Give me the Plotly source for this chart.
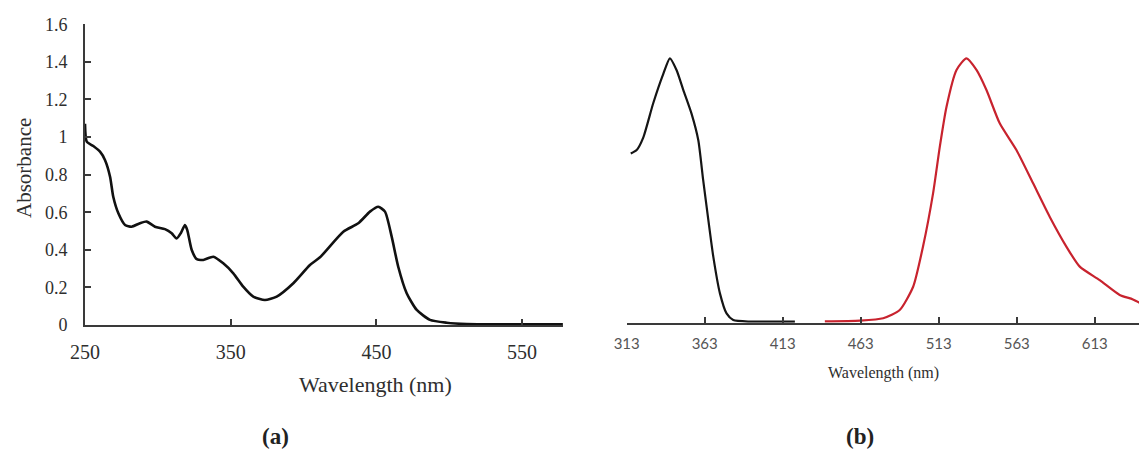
import plotly.graph_objects as go

# The page body has an 8px default margin, so the figure is sized to fill the 1147x452 window.
OFF = 8
W, H = 1147 - OFF, 452 - OFF

# ---- Panel (a): absorbance spectrum ----
a_wavelength = [250, 251.2, 255.7, 260.3, 263.7, 267.2, 269.4, 272.9, 277.5, 282, 287.7, 292.3,
                298, 304.9, 309.5, 312.9, 315.7, 318.6, 320.2, 323.2, 326.7, 331.2, 338.1, 344.9,
                351.8, 358.6, 365.5, 373.5, 381.6, 393, 404.4, 411.3, 427.3, 437.6, 445.6, 451.3,
                455.9, 460.5, 465, 470.8, 477.7, 486.8, 498.2, 512, 540, 578]
a_absorbance = [1.07, 0.975, 0.952, 0.922, 0.878, 0.789, 0.682, 0.594, 0.532, 0.523, 0.541, 0.55,
                0.523, 0.51, 0.488, 0.46, 0.488, 0.532, 0.505, 0.40, 0.35, 0.346, 0.363, 0.328,
                0.275, 0.204, 0.151, 0.133, 0.151, 0.222, 0.319, 0.36, 0.496, 0.541, 0.603, 0.629,
                0.603, 0.47, 0.31, 0.169, 0.08, 0.027, 0.012, 0.005, 0.004, 0.004]
a_xticks = [250, 350, 450, 550]
a_yticks = [0, 0.2, 0.4, 0.6, 0.8, 1, 1.2, 1.4, 1.6]
a_yticklabels = ["0", "0.2", "0.4", "0.6", "0.8", "1", "1.2", "1.4", "1.6"]

# ---- Panel (b): excitation (black) and emission (red) ----
b_exc_wavelength = [315.6, 319.4, 323.6, 330, 336.4, 340.7, 345, 349.3, 354.6, 358.9, 362,
                    365.3, 368.5, 372.8, 377, 381.3, 392, 405, 420.8]
b_exc_intensity = [0.64, 0.653, 0.70, 0.83, 0.94, 1.0, 0.955, 0.88, 0.79, 0.69, 0.54,
                   0.39, 0.25, 0.11, 0.035, 0.01, 0.004, 0.004, 0.004]
b_em_wavelength = [440, 462.5, 477.4, 488, 496.6, 503, 509.4, 513.7, 518, 524.4, 530.8, 537.2,
                   543.6, 552.1, 562.8, 573.5, 584.2, 594.9, 603.4, 616.2, 629, 637.5, 646.5]
b_em_intensity = [0.005, 0.008, 0.017, 0.048, 0.136, 0.29, 0.49, 0.666, 0.817, 0.956, 1.0, 0.956,
                  0.88, 0.754, 0.653, 0.527, 0.40, 0.287, 0.212, 0.161, 0.105, 0.088, 0.06]
b_xticks = [313, 363, 413, 463, 513, 563, 613]

fig = go.Figure()
fig.add_trace(go.Scatter(x=a_wavelength, y=a_absorbance, mode="lines",
                         line=dict(color="#111111", width=2.6, shape="spline", smoothing=0.6),
                         xaxis="x", yaxis="y", showlegend=False))
fig.add_trace(go.Scatter(x=b_exc_wavelength, y=b_exc_intensity, mode="lines",
                         line=dict(color="#151515", width=2.2, shape="spline", smoothing=0.6),
                         xaxis="x2", yaxis="y2", showlegend=False))
fig.add_trace(go.Scatter(x=b_em_wavelength, y=b_em_intensity, mode="lines",
                         line=dict(color="#c8232e", width=2.2, shape="spline", smoothing=0.6),
                         xaxis="x2", yaxis="y2", showlegend=False))

def px_x(p):
    return (p - OFF) / W

def px_y(p):
    return 1 - (p - OFF) / H

serif = "Liberation Serif, Times New Roman, serif"
axis_col = "#3a3a3a"
text_col = "#2e2e2e"

fig.update_layout(
    width=W, height=H, autosize=False,
    template="none",
    margin=dict(l=0, r=0, t=0, b=0, pad=0),
    paper_bgcolor="white", plot_bgcolor="white",
    font=dict(family=serif, color="#333333"),
    xaxis=dict(domain=[px_x(85), px_x(563.3)], range=[250, 578.3], anchor="y", automargin=False,
               tickvals=a_xticks, ticks="inside", ticklen=6, tickwidth=1.5, tickcolor=axis_col,
               showline=True, linecolor=axis_col, linewidth=2, showgrid=False, zeroline=False,
               tickfont=dict(family=serif, size=20, color=text_col), ticklabelstandoff=8),
    yaxis=dict(domain=[px_y(325), px_y(24.2)], range=[0, 1.6], anchor="x", automargin=False,
               tickvals=a_yticks, ticktext=a_yticklabels, ticks="inside", ticklen=6, tickwidth=1.5,
               tickcolor=axis_col, showline=True, linecolor=axis_col, linewidth=2,
               showgrid=False, zeroline=False,
               tickfont=dict(family=serif, size=18, color=text_col), ticklabelstandoff=12),
    xaxis2=dict(domain=[px_x(626.7), 1.0], range=[313, 646.5], anchor="y2", automargin=False,
                tickvals=b_xticks, ticks="inside", ticklen=6, tickwidth=1.5, tickcolor=axis_col,
                showline=True, linecolor=axis_col, linewidth=2, showgrid=False, zeroline=False,
                tickfont=dict(family="Lato, Open Sans, sans-serif", size=15, color="#555555"),
                ticklabelstandoff=6),
    yaxis2=dict(domain=[px_y(322.7), px_y(24.2)], range=[0, (322.7 - 24.2) / (322.7 - 58.3)],
                anchor="x2", visible=False, automargin=False),
)

annos = [
    dict(text="Absorbance", x=px_x(24), y=px_y(168), textangle=-90,
         font=dict(family=serif, size=21, color=text_col)),
    dict(text="Wavelength (nm)", x=px_x(375), y=px_y(384),
         font=dict(family=serif, size=22, color=text_col)),
    dict(text="Wavelength (nm)", x=px_x(883), y=px_y(373),
         font=dict(family=serif, size=16, color=text_col)),
    dict(text="<b>(a)</b>", x=px_x(275), y=px_y(436),
         font=dict(family=serif, size=23, color="#222222")),
    dict(text="<b>(b)</b>", x=px_x(860), y=px_y(436),
         font=dict(family=serif, size=23, color="#222222")),
]
for a in annos:
    fig.add_annotation(xref="paper", yref="paper", showarrow=False,
                       xanchor="center", yanchor="middle", **a)

fig.write_html("out.html")
